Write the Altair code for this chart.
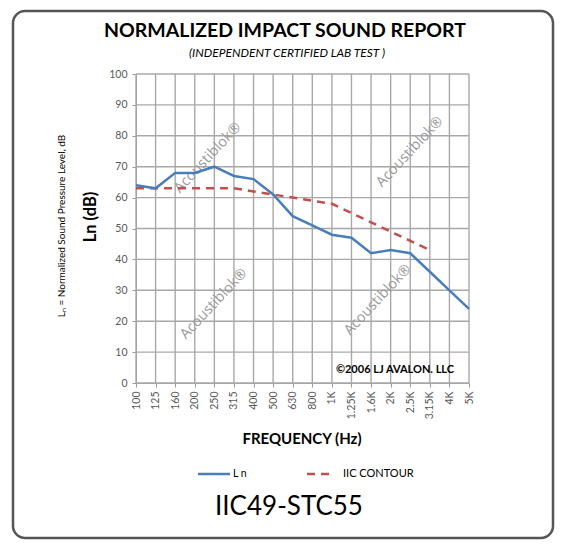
import altair as alt
import pandas as pd

freqs = ["100", "125", "160", "200", "250", "315", "400", "500", "630", "800",
         "1K", "1.25K", "1.6K", "2K", "2.5K", "3.15K", "4K", "5K"]
ln_values = [64, 63, 68, 68, 70, 67, 66, 61, 54, 51, 48, 47, 42, 43, 42, 36, 30, 24]
iic_freqs = freqs[:16]
iic_values = [63, 63, 63, 63, 63, 63, 62, 61, 60, 59, 58, 55, 52, 49, 46, 43]
y_ticks = [0, 10, 20, 30, 40, 50, 60, 70, 80, 90, 100]

FONT = "Lato"
W, H = 333, 309

ln_df = pd.DataFrame({"freq": freqs, "value": ln_values})
iic_df = pd.DataFrame({"freq": iic_freqs, "value": iic_values})
xgrid_df = pd.DataFrame({"freq": freqs})
ygrid_df = pd.DataFrame({"value": y_ticks})
one = pd.DataFrame({"a": [0]})

xscale = alt.Scale(type="point", domain=freqs, padding=0)
yscale = alt.Scale(domain=[0, 100], nice=False)

xaxis = alt.Axis(title=None, labelAngle=270, labelFontSize=10.5, labelColor="#595959",
                 labelFont=FONT, tickColor="#9a9a9a", tickSize=4, labelPadding=4,
                 domainColor="#9a9a9a", grid=False, labelOverlap=False)
yaxis = alt.Axis(title=None, values=y_ticks, labelFontSize=10.5,
                 labelColor="#595959", labelFont=FONT, tickColor="#9a9a9a", tickSize=4,
                 labelPadding=5, domainColor="#9a9a9a", grid=False, labelOverlap=False)

xgrid = alt.Chart(xgrid_df).mark_rule(color="#a8a8a8", strokeWidth=1.4).encode(
    x=alt.X("freq:N", scale=xscale, axis=xaxis, sort=freqs),
    y=alt.value(0), y2=alt.value(H),
)
ygrid = alt.Chart(ygrid_df).mark_rule(color="#a8a8a8", strokeWidth=1.4).encode(
    y=alt.Y("value:Q", scale=yscale, axis=yaxis),
    x=alt.value(0), x2=alt.value(W),
)

ln_line = alt.Chart(ln_df).mark_line(color="#4A7EBB", strokeWidth=2.5).encode(
    x=alt.X("freq:N", scale=xscale, axis=xaxis, sort=freqs),
    y=alt.Y("value:Q", scale=yscale, axis=yaxis),
)
iic_line = alt.Chart(iic_df).mark_line(color="#C0504D", strokeWidth=2.5, strokeDash=[8, 6]).encode(
    x=alt.X("freq:N", scale=xscale, axis=xaxis, sort=freqs),
    y=alt.Y("value:Q", scale=yscale, axis=yaxis),
)

def text(t, x, y, size, weight="normal", style="normal", color="#000000", align="center", angle=0, font=FONT):
    kw = dict(text=t, fontSize=size, fontWeight=weight, fontStyle=style, color=color,
              align=align, baseline="middle", font=font)
    if angle:
        kw["angle"] = angle
    return alt.Chart(one).mark_text(**kw).encode(x=alt.value(x), y=alt.value(y))

watermark_positions = [(72, 84), (274, 78), (78, 230), (242, 226)]
watermarks = [text("Acoustiblok\u00ae", x, y, 14.5, color="#999999", angle=313, font="Open Sans")
              for x, y in watermark_positions]

border = alt.Chart(one).mark_rect(fillOpacity=0, stroke="#555555", strokeWidth=2.5,
                                  cornerRadius=12).encode(
    x=alt.value(-123), x2=alt.value(417), y=alt.value(-63), y2=alt.value(464))

legend_blue = alt.Chart(one).mark_rule(color="#4A7EBB", strokeWidth=2.5).encode(
    x=alt.value(62), x2=alt.value(94), y=alt.value(400))
legend_red = alt.Chart(one).mark_rule(color="#C0504D", strokeWidth=2.5, strokeDash=[8, 6]).encode(
    x=alt.value(171), x2=alt.value(199), y=alt.value(400))

layers = [xgrid, ygrid] + watermarks + [
    iic_line, ln_line,
    text("NORMALIZED IMPACT SOUND REPORT", 149, -43, 19.5, weight="bold"),
    text("(INDEPENDENT CERTIFIED LAB TEST )", 151, -21, 12, style="italic"),
    text("L\u2099 = Normalized Sound Pressure Level, dB", -74, 152, 10, angle=270),
    text("Ln (dB)", -45, 143, 16.5, weight="bold", angle=270),
    text("FREQUENCY (Hz)", 166, 365, 15, weight="bold"),
    text("\u00a92006 LJ AVALON. LLC", 259, 296, 11, weight="bold"),
    legend_blue, legend_red,
    text("L n", 97, 400, 10.5, align="left"),
    text("IIC CONTOUR", 207, 400, 11, align="left"),
    text("IIC49-STC55", 153, 433, 26),
    border,
]

chart = alt.layer(*layers).properties(
    width=W, height=H,
    background="white",
    autosize=alt.AutoSizeParams(type="none"),
    padding={"left": 128, "top": 66, "right": 87, "bottom": 158},
).configure_view(stroke=None)

chart.save("out.html", embed_options={"renderer": "svg", "actions": False})
